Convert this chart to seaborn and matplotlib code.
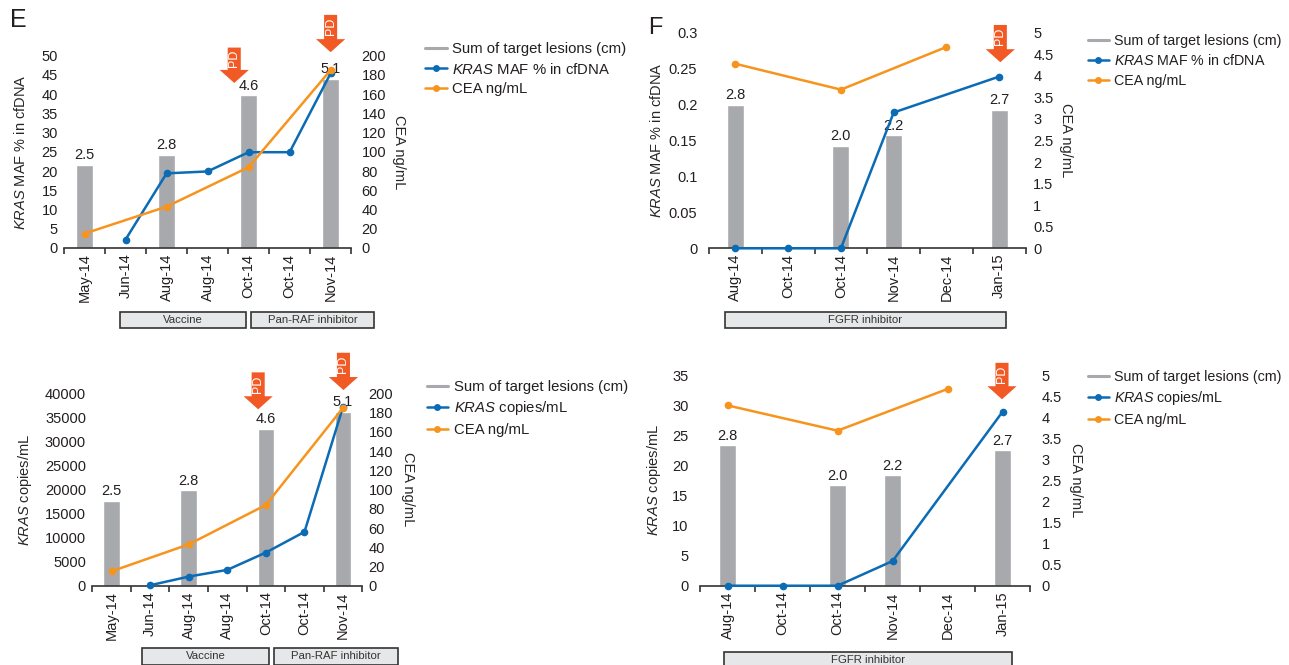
import numpy as np
import pandas as pd
import matplotlib
matplotlib.use("Agg")
import matplotlib.pyplot as plt
import seaborn as sns
from matplotlib.lines import Line2D
from matplotlib.patches import Rectangle
from matplotlib.ticker import FuncFormatter

nan = np.nan

# Patient E
e_dates = ["May-14", "Jun-14", "Aug-14", "Aug-14", "Oct-14", "Oct-14", "Nov-14"]
e_lesions = [2.5, nan, 2.8, nan, 4.6, nan, 5.1]
e_maf = [nan, 2.2, 19.4, 19.9, 24.9, 24.9, 45.4]
e_copies = [nan, 100, 1900, 3300, 6900, 11200, 37200]
e_cea = [15, nan, 43, nan, 84, nan, 185]

# Patient F
f_dates = ["Aug-14", "Oct-14", "Oct-14", "Nov-14", "Dec-14", "Jan-15"]
f_lesions = [2.8, nan, 2.0, 2.2, nan, 2.7]
f_maf = [0, 0, 0, 0.189, nan, 0.239]
f_copies = [0, 0, 0, 4.1, nan, 28.9]
f_cea = [4.28, nan, 3.68, nan, 4.67, nan]

GRAY = "#A7A9AC"
BLUE = "#0B6BB4"
ORANGE = "#F7941E"
RED = "#F15A24"
DARK = "#231F20"

sns.set_theme(style="white")
plt.rcParams["font.family"] = ["Liberation Sans", "DejaVu Sans"]
plt.rcParams["mathtext.fontset"] = "custom"
plt.rcParams["mathtext.it"] = "Liberation Sans:italic"
plt.rcParams["mathtext.rm"] = "Liberation Sans"
plt.rcParams["text.color"] = DARK

FS = 10.5

fig = plt.figure(figsize=(12.89, 6.65), dpi=100)

fmt_g = FuncFormatter(lambda v, p: f"{round(v, 6):g}")


def panel(rect, dates, lesions, bar_top, bar_w, left_vals, left_top, left_step,
          left_label, cea, cea_top, cea_step, pads, lpads, boxes, box_y,
          arrows, leg_xy, leg_label, leg_fs):
    n = len(dates)
    idx = np.arange(n)
    df = pd.DataFrame({"idx": idx, "lesion": lesions, "left": left_vals, "cea": cea})

    ax = fig.add_axes(rect)
    sns.barplot(data=df.dropna(subset=["lesion"]), x="idx", y="lesion",
                order=list(idx), color=GRAY, saturation=1, width=bar_w,
                errorbar=None, ax=ax)
    ax.set_ylim(0, bar_top)
    ax.bar_label(ax.containers[0], fmt="%.1f", padding=2, fontsize=FS, color=DARK)
    ax.set_yticks([])
    ax.set_ylabel("")
    ax.set_xlabel("")

    axl = ax.twinx()
    axl.yaxis.tick_left()
    axl.yaxis.set_label_position("left")
    axr = ax.twinx()

    sns.lineplot(data=df.dropna(subset=["left"]), x="idx", y="left", ax=axl,
                 color=BLUE, marker="o", markersize=5.5, markeredgewidth=0,
                 linewidth=1.8, estimator=None, clip_on=False)
    sns.lineplot(data=df.dropna(subset=["cea"]), x="idx", y="cea", ax=axr,
                 color=ORANGE, marker="o", markersize=5.5, markeredgewidth=0,
                 linewidth=1.8, estimator=None, clip_on=False)

    axl.set_ylim(0, left_top)
    axl.set_yticks(np.arange(0, left_top + left_step / 2, left_step))
    axl.yaxis.set_major_formatter(fmt_g)
    axl.tick_params(axis="y", length=0, pad=pads[0], labelsize=FS, colors=DARK)
    axl.set_ylabel(left_label, fontsize=FS, labelpad=lpads[0])

    axr.set_ylim(0, cea_top)
    axr.set_yticks(np.arange(0, cea_top + cea_step / 2, cea_step))
    axr.yaxis.set_major_formatter(fmt_g)
    axr.tick_params(axis="y", length=0, pad=pads[1], labelsize=FS, colors=DARK)
    axr.set_ylabel("CEA ng/mL", fontsize=FS, rotation=270, va="bottom",
                   labelpad=lpads[1])

    for a in (ax, axl, axr):
        for s in ("left", "right", "top"):
            a.spines[s].set_visible(False)
    for a in (axl, axr):
        a.spines["bottom"].set_visible(False)
    ax.spines["bottom"].set_color("#333333")
    ax.spines["bottom"].set_linewidth(1.2)

    ax.set_xlim(-0.5, n - 0.5)
    ax.set_xticks(idx)
    ax.set_xticklabels(dates, rotation=90, fontsize=FS, color=DARK)
    ax.set_xticks(np.arange(n + 1) - 0.5, minor=True)
    ax.tick_params(axis="x", which="both", bottom=True)
    ax.tick_params(axis="x", which="major", length=0, pad=4)
    ax.tick_params(axis="x", which="minor", length=4, width=1.2,
                   direction="out", color="#333333")

    tr = ax.get_xaxis_transform()
    for x0, x1, txt in boxes:
        ax.add_patch(Rectangle((x0, box_y[0]), x1 - x0, box_y[1] - box_y[0],
                               transform=tr, clip_on=False, fc="#E6E7E8",
                               ec="#333333", lw=1.2))
        ax.text((x0 + x1) / 2, (box_y[0] + box_y[1]) / 2, txt, transform=tr,
                ha="center", va="center", fontsize=8.2, color="#333333")

    for x, ytop, ytip in arrows:
        ax.annotate("", xy=(x, ytip), xytext=(x, ytop), xycoords=tr, textcoords=tr,
                    annotation_clip=False,
                    arrowprops=dict(arrowstyle="simple,head_length=0.94,head_width=2.1,tail_width=0.94",
                                    fc=RED, ec="none", shrinkA=0, shrinkB=0,
                                    mutation_scale=10))
        ax.text(x, ytop - 0.31 * (ytop - ytip), "PD", transform=tr, rotation=90,
                ha="center", va="center", fontsize=9, color="white")

    handles = [Line2D([], [], color=GRAY, lw=2.2),
               Line2D([], [], color=BLUE, lw=1.8, marker="o", ms=5, mew=0),
               Line2D([], [], color=ORANGE, lw=1.8, marker="o", ms=5, mew=0)]
    labels = ["Sum of target lesions (cm)", leg_label, "CEA ng/mL"]
    fig.legend(handles, labels, loc="upper left", bbox_to_anchor=leg_xy,
               frameon=False, borderaxespad=0, borderpad=0, handlelength=1.45,
               handletextpad=0.4, labelspacing=0.38, fontsize=leg_fs)


maf_label = r"$\mathit{KRAS}$ MAF % in cfDNA"
copies_label = r"$\mathit{KRAS}$ copies/mL"

panel((0.0497, 0.6271, 0.2227, 0.2892), e_dates, e_lesions, 5.8, 0.41,
      e_maf, 50, 5, maf_label, e_cea, 200, 20, (4.5, 7.5), (10, 4.5),
      [(0.87, 3.93, "Vaccine"), (4.06, 7.07, "Pan-RAF inhibitor")], (-0.418, -0.331),
      [(3.65, 1.042, 0.858), (6.0, 1.212, 1.018)], (0.3297, 0.937), maf_label, 10.7)

panel((0.0716, 0.1192, 0.2095, 0.2893), e_dates, e_lesions, 5.65, 0.43,
      e_copies, 40000, 5000, copies_label, e_cea, 200, 20, (4.5, 4.5), (8, 5.5),
      [(0.80, 4.07, "Vaccine"), (4.22, 7.42, "Pan-RAF inhibitor")], (-0.41, -0.325),
      [(3.80, 1.109, 0.917), (6.01, 1.211, 1.017)], (0.331, 0.429), copies_label, 10.7)

panel((0.550, 0.6266, 0.2457, 0.3242), f_dates, f_lesions, 4.2, 0.32,
      f_maf, 0.3, 0.05, maf_label, f_cea, 5, 0.5, (8.4, 5.5), (3.5, 4),
      [(-0.197, 5.12, "FGFR inhibitor")], (-0.371, -0.294),
      [(5.02, 1.036, 0.863)], (0.844, 0.949), maf_label, 10.3)

panel((0.5431, 0.1192, 0.256, 0.3168), f_dates, f_lesions, 4.2, 0.30,
      f_copies, 35, 5, copies_label, f_cea, 5, 0.5, (8.4, 8.4), (6.5, 5),
      [(-0.058, 5.17, "FGFR inhibitor")], (-0.392, -0.313),
      [(4.99, 1.058, 0.885)], (0.844, 0.444), copies_label, 10.3)

fig.text(10 / 1289, 1 - 8 / 665, "E", fontsize=18, va="top", ha="left")
fig.text(648 / 1289, 1 - 17 / 665, "F", fontsize=17, va="top", ha="left")

fig.savefig("out.png", dpi=100)
